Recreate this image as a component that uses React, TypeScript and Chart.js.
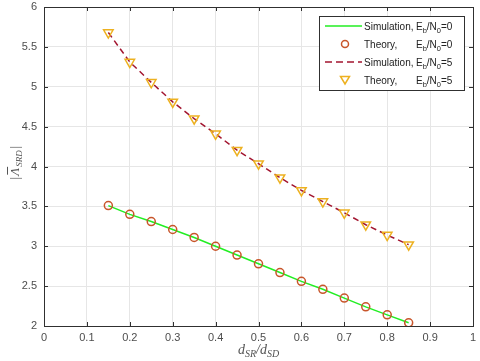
import React, { useEffect, useRef } from "react";
import { Chart, registerables } from "chart.js";

Chart.register(...registerables);

const xValues = [0.15, 0.2, 0.25, 0.3, 0.35, 0.4, 0.45, 0.5, 0.55, 0.6, 0.65, 0.7, 0.75, 0.8, 0.85];
const sim0 = [3.51, 3.4, 3.31, 3.21, 3.11, 3.0, 2.89, 2.78, 2.67, 2.56, 2.46, 2.35, 2.24, 2.14, 2.04];
const theory0 = [3.51, 3.4, 3.31, 3.21, 3.11, 3.0, 2.89, 2.78, 2.67, 2.56, 2.46, 2.35, 2.24, 2.14, 2.04];
const sim5 = [5.68, 5.31, 5.055, 4.81, 4.6, 4.41, 4.205, 4.035, 3.86, 3.7, 3.56, 3.42, 3.27, 3.14, 3.02];
const theory5 = [5.68, 5.31, 5.055, 4.81, 4.6, 4.41, 4.205, 4.035, 3.86, 3.7, 3.56, 3.42, 3.27, 3.14, 3.02];
const xTicks = [0, 0.1, 0.2, 0.3, 0.4, 0.5, 0.6, 0.7, 0.8, 0.9, 1];
const yTicks = [2, 2.5, 3, 3.5, 4, 4.5, 5, 5.5, 6];
const legendRows = [
  { kind: "line", head: "Simulation,", tail: "0" },
  { kind: "circle", head: "Theory,", tail: "0" },
  { kind: "dash", head: "Simulation,", tail: "5" },
  { kind: "tri", head: "Theory,", tail: "5" },
];

const GREEN = "#22ee22";
const ORANGE = "#c8552a";
const CRIMSON = "#a2142f";
const GOLD = "#edb120";
const AXIS = "#303030";
const SANS = "'Liberation Sans', Arial, sans-serif";
const SERIF = "'Liberation Serif', 'DejaVu Serif', serif";

const pts = (ys: number[]) => xValues.map((x, i) => ({ x, y: ys[i] }));

const decorPlugin = {
  id: "decor",
  afterDatasetsDraw(chart: any) {
    const ctx = chart.ctx as CanvasRenderingContext2D;
    const { left, right, top, bottom } = chart.chartArea;
    const xs = chart.scales.x;
    const ys = chart.scales.y;
    ctx.save();
    ctx.strokeStyle = AXIS;
    ctx.lineWidth = 1;
    ctx.beginPath();
    for (const t of xTicks) {
      const px = Math.round(xs.getPixelForValue(t)) + 0.5;
      ctx.moveTo(px, bottom);
      ctx.lineTo(px, bottom - 4);
      ctx.moveTo(px, top);
      ctx.lineTo(px, top + 4);
    }
    for (const t of yTicks) {
      const py = Math.round(ys.getPixelForValue(t)) + 0.5;
      ctx.moveTo(left, py);
      ctx.lineTo(left + 4, py);
      ctx.moveTo(right, py);
      ctx.lineTo(right - 4, py);
    }
    ctx.stroke();
    ctx.strokeRect(Math.round(left) + 0.5, Math.round(top) + 0.5, Math.round(right - left), Math.round(bottom - top));
    ctx.restore();
  },
  afterDraw(chart: any) {
    const ctx = chart.ctx as CanvasRenderingContext2D;
    const { left, right, top, bottom } = chart.chartArea;
    ctx.save();
    // Legend
    const bx = 319.5, by = 16.5, bw = 145, bh = 74;
    ctx.fillStyle = "#ffffff";
    ctx.fillRect(bx, by, bw, bh);
    ctx.strokeStyle = AXIS;
    ctx.lineWidth = 1;
    ctx.strokeRect(bx, by, bw, bh);
    legendRows.forEach((row, i) => {
      const cy = 26 + i * 18;
      ctx.save();
      if (row.kind === "line" || row.kind === "dash") {
        ctx.strokeStyle = row.kind === "line" ? GREEN : CRIMSON;
        ctx.lineWidth = 1.5;
        if (row.kind === "dash") ctx.setLineDash([7, 4]);
        ctx.beginPath();
        ctx.moveTo(325, cy);
        ctx.lineTo(362, cy);
        ctx.stroke();
      } else if (row.kind === "circle") {
        ctx.strokeStyle = ORANGE;
        ctx.lineWidth = 1.5;
        ctx.beginPath();
        ctx.arc(345, cy, 3.5, 0, Math.PI * 2);
        ctx.stroke();
      } else {
        ctx.strokeStyle = GOLD;
        ctx.lineWidth = 1.5;
        ctx.beginPath();
        ctx.moveTo(340.5, cy - 3.5);
        ctx.lineTo(349.5, cy - 3.5);
        ctx.lineTo(345, cy + 4);
        ctx.closePath();
        ctx.stroke();
      }
      ctx.restore();
      ctx.fillStyle = "#222222";
      ctx.textBaseline = "alphabetic";
      ctx.textAlign = "left";
      const base = cy + 3.5;
      ctx.font = `10px ${SANS}`;
      ctx.fillText(row.head, 364, base);
      let x = 416;
      ctx.fillText("E", x, base);
      x += ctx.measureText("E").width;
      ctx.font = `7.5px ${SANS}`;
      ctx.fillText("b", x, base + 3);
      x += ctx.measureText("b").width;
      ctx.font = `10px ${SANS}`;
      ctx.fillText("/N", x, base);
      x += ctx.measureText("/N").width;
      ctx.font = `7.5px ${SANS}`;
      ctx.fillText("0", x, base + 3);
      x += ctx.measureText("0").width;
      ctx.font = `10px ${SANS}`;
      ctx.fillText("=" + row.tail, x, base);
    });

    // X axis title
    ctx.fillStyle = "#555555";
    const parts: [string, number, number][] = [
      ["d", 14, 0],
      ["SR", 10, 3],
      ["/", 14, 0],
      ["d", 14, 0],
      ["SD", 10, 3],
    ];
    let total = 0;
    for (const [t, s] of parts) {
      ctx.font = `italic ${s}px ${SERIF}`;
      total += ctx.measureText(t).width;
    }
    let xx = (left + right) / 2 - total / 2;
    const xb = 354;
    for (const [t, s, dy] of parts) {
      ctx.font = `italic ${s}px ${SERIF}`;
      ctx.fillText(t, xx, xb + dy);
      xx += ctx.measureText(t).width;
    }

    // Y axis title
    ctx.translate(19, (top + bottom) / 2 - 4);
    ctx.rotate(-Math.PI / 2);
    const yparts: [string, number, number, boolean][] = [
      ["|", 13, 0, false],
      ["Λ", 13, 0, true],
      ["SRD", 9, 3, false],
      ["|", 13, 0, false],
    ];
    let tw = 0;
    for (const [t, s] of yparts) {
      ctx.font = `italic ${s}px ${SERIF}`;
      tw += ctx.measureText(t).width + 1;
    }
    let yx = -tw / 2;
    for (const [t, s, dy, bar] of yparts) {
      ctx.font = `italic ${s}px ${SERIF}`;
      const w = ctx.measureText(t).width;
      ctx.fillText(t, yx, dy);
      if (bar) {
        ctx.strokeStyle = "#555555";
        ctx.lineWidth = 1;
        ctx.beginPath();
        ctx.moveTo(yx + 1, -11.5);
        ctx.lineTo(yx + w + 1, -11.5);
        ctx.stroke();
      }
      yx += w + 1;
    }
    ctx.restore();
  },
};

export default function App() {
  const ref = useRef<HTMLCanvasElement | null>(null);
  useEffect(() => {
    if (!ref.current) return;
    const chart = new Chart(ref.current, {
      type: "scatter",
      data: {
        datasets: [
          {
            label: "Theory, Eb/N0=0",
            data: pts(theory0),
            showLine: false,
            pointStyle: "circle",
            pointRadius: 4,
            pointBorderWidth: 1.5,
            pointBorderColor: ORANGE,
            pointBackgroundColor: "rgba(0,0,0,0)",
            order: 0,
          },
          {
            label: "Theory, Eb/N0=5",
            data: pts(theory5),
            showLine: false,
            pointStyle: "triangle",
            pointRotation: 180,
            pointRadius: 5.5,
            pointBorderWidth: 1.5,
            pointBorderColor: GOLD,
            pointBackgroundColor: "rgba(0,0,0,0)",
            order: 0,
          },
          {
            label: "Simulation, Eb/N0=0",
            data: pts(sim0),
            showLine: true,
            borderColor: GREEN,
            borderWidth: 1.5,
            pointRadius: 0,
            order: 1,
          },
          {
            label: "Simulation, Eb/N0=5",
            data: pts(sim5),
            showLine: true,
            borderColor: CRIMSON,
            borderWidth: 1.5,
            borderDash: [6, 4],
            pointRadius: 0,
            order: 1,
          },
        ] as any,
      },
      options: {
        responsive: false,
        animation: false,
        layout: { padding: { top: 5, right: 5, left: 0, bottom: 0 } },
        plugins: { legend: { display: false }, tooltip: { enabled: false } },
        scales: {
          x: {
            type: "linear",
            min: 0,
            max: 1,
            afterBuildTicks: (s: any) => {
              s.ticks = xTicks.map((v) => ({ value: v }));
            },
            afterFit: (s: any) => {
              s.height = 35;
              s.paddingLeft = 0;
              s.paddingRight = 0;
              s.paddingTop = 0;
              s.paddingBottom = 0;
            },
            ticks: {
              padding: 5,
              color: "#4d4d4d",
              font: { family: SANS, size: 11 },
              maxRotation: 0,
              callback: (v: any) => String(Math.round(Number(v) * 10) / 10),
            },
            grid: { color: "#e6e6e6", drawTicks: false },
            border: { display: false },
          },
          y: {
            type: "linear",
            min: 2,
            max: 6,
            afterBuildTicks: (s: any) => {
              s.ticks = yTicks.map((v) => ({ value: v }));
            },
            afterFit: (s: any) => {
              s.width = 44;
              s.paddingLeft = 0;
              s.paddingRight = 0;
              s.paddingTop = 0;
              s.paddingBottom = 0;
            },
            ticks: {
              padding: 7,
              color: "#4d4d4d",
              font: { family: SANS, size: 11 },
              callback: (v: any) => String(v),
            },
            grid: { color: "#e6e6e6", drawTicks: false },
            border: { display: false },
          },
        },
      },
      plugins: [decorPlugin],
    });
    return () => chart.destroy();
  }, []);
  return (
    <div style={{ position: "fixed", left: 0, top: 0, width: 480, height: 361, background: "#fff" }}>
      <canvas ref={ref} width={480} height={361} style={{ display: "block" }} />
    </div>
  );
}
